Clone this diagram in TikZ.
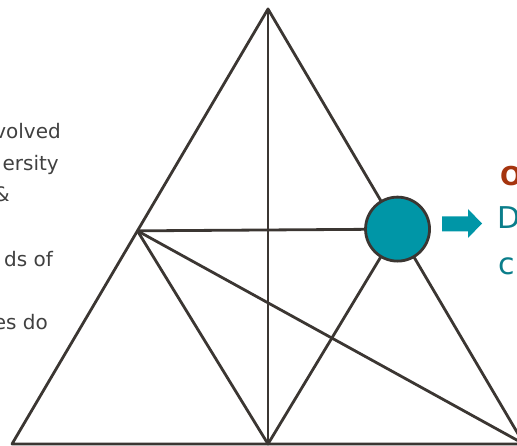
\documentclass[tikz,border=0pt]{standalone}
\usepackage{fontspec}
\setmainfont{DejaVu Sans}
\usetikzlibrary{calc}
\definecolor{lineC}{RGB}{59,54,50}
\definecolor{tealC}{RGB}{0,150,167}
\definecolor{tealT}{RGB}{10,125,138}
\definecolor{rustC}{RGB}{165,52,14}
\definecolor{greyT}{RGB}{64,64,64}
\tikzset{
  edge/.style={draw=lineC, line width=2.8pt, line cap=round, line join=round},
  lefttxt/.style={anchor=base east, inner sep=0pt, text=greyT, font=\fontsize{20}{24}\selectfont},
  righttxt/.style={anchor=base west, inner sep=0pt, font=\fontsize{30}{36}\selectfont},
  hub/.style={circle, draw=lineC, line width=2.8pt, fill=tealC, minimum size=64pt, inner sep=0pt}
}
\begin{document}
\begin{tikzpicture}[x=1pt, y=-1pt]
\useasboundingbox (0,0) rectangle (517,446);
% vertices
\coordinate (A) at (268,9);
\coordinate (BL) at (12,444);
\coordinate (BM) at (268,444);
\coordinate (BR) at (524,444);
\coordinate (L) at ($(A)!0.51!(BL)$);
\coordinate (C) at ($(A)!0.506!(BR)$);
% inner lines
\draw[edge] (L) -- (C);
\draw[edge] (L) -- (BM);
\draw[edge] (L) -- (BR);
\draw[edge] (C) -- (BM);
\draw[edge] (A) -- (BM);
% outer triangle
\draw[edge] (A) -- (BL) -- (BR) -- cycle;
% hub circle
\node[hub] (hubnode) at (C) {};
% arrow
\fill[tealC] (442,216.5) -- (468,216.5) -- (468,209) -- (482,223.5) -- (468,238) -- (468,231.5) -- (442,231.5) -- cycle;
% left text (clipped)
\node[lefttxt] (t1) at (61,139) {volved};
\node[lefttxt] (t2) at (59,171) {ersity};
\node[lefttxt] (t3) at (10,202) {\&};
\node[lefttxt] (t4) at (53,267) {ds of};
\node[lefttxt] (t5) at (48,330) {es do};
% right text
\node[righttxt, text=rustC, font=\fontsize{26}{30}\selectfont\bfseries] (r1) at (500,186) {O};
\node[righttxt, text=tealT] (r2) at (497,229) {D};
\node[righttxt, text=tealT] (r3) at (498,275) {c};
\end{tikzpicture}
\end{document}
